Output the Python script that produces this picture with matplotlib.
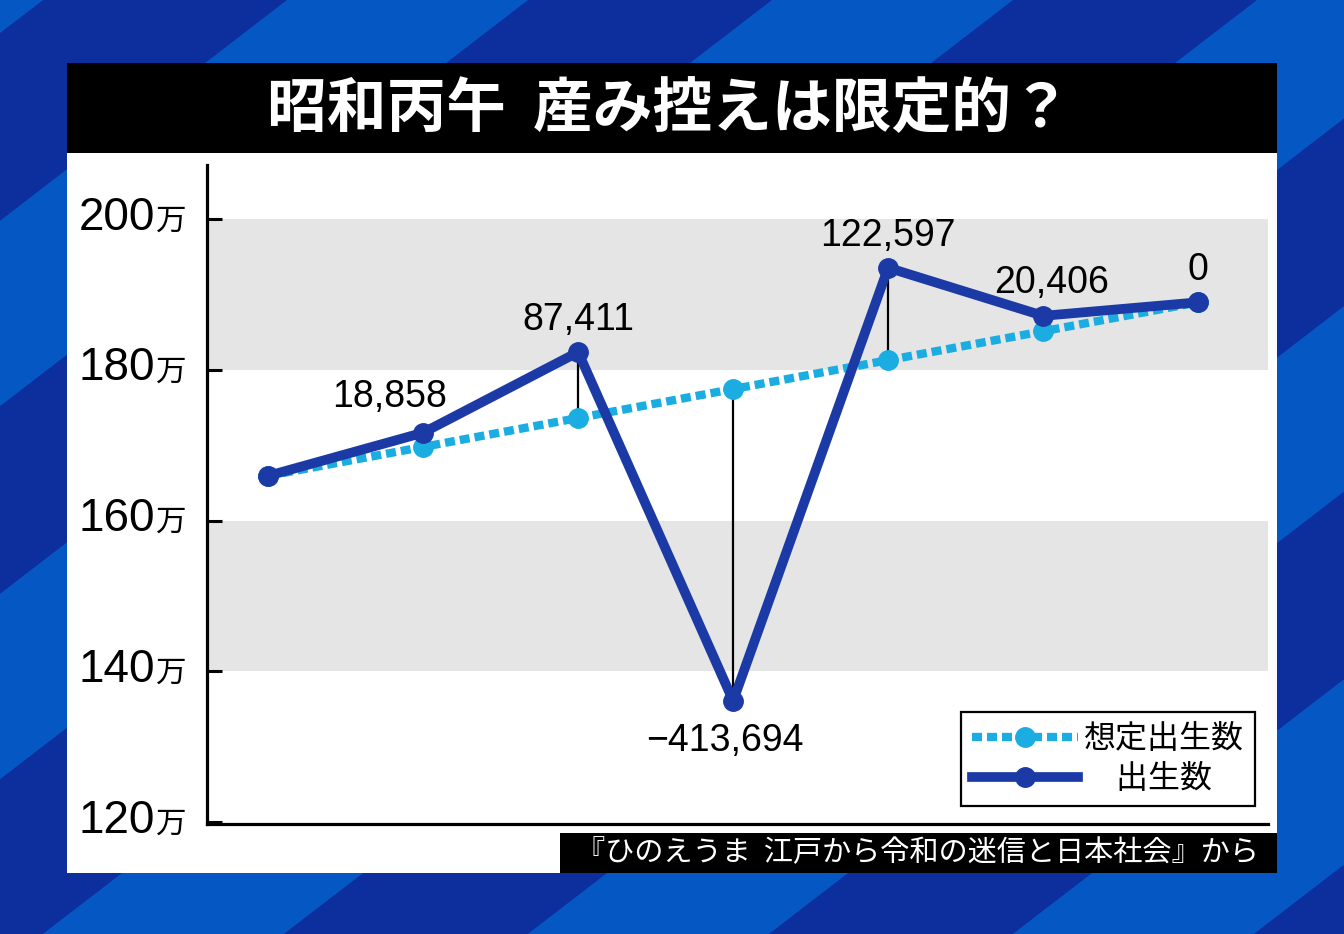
import numpy as np
import matplotlib.pyplot as plt
from matplotlib.patches import Rectangle, Polygon

plt.rcParams['font.family'] = ['Liberation Sans', 'Noto Sans CJK JP', 'DejaVu Sans']

# data (births, 1963-1969)
years = [1963, 1964, 1965, 1966, 1967, 1968, 1969]
expected = [1659521, 1697903, 1736286, 1774668, 1813050, 1851433, 1889815]
actual = [1659521, 1716761, 1823697, 1360974, 1935647, 1871839, 1889815]
diff_labels = ['', '18,858', '87,411', '\u2212413,694', '122,597', '20,406', '0']
label_offsets = [(0, 0), (-24, 26), (0, 23), (-6, -29), (0, 23), (6, 24), (0, 23)]
yticks = [120, 140, 160, 180, 200]

title = '昭和丙午  産み控えは限定的？'
source = '『ひのえうま  江戸から令和の迷信と日本社会』から'

dark = '#1c3aa6'
light = '#1badE2'

fig = plt.figure(figsize=(13.44, 9.34), dpi=100)

# background with diagonal stripes, drawn in pixel coords
bg = fig.add_axes([0, 0, 1, 1])
bg.set_xlim(0, 1344)
bg.set_ylim(934, 0)
bg.axis('off')
bg.add_patch(Rectangle((0, 0), 1344, 934, color='#0558c4'))
k_slope = 1.3
for k in range(-1, 6):
    c1 = 43 + 485 * k
    c2 = 287 + 485 * k
    pts = [(c1, 0), (c2, 0), (c2 - k_slope * 934, 934), (c1 - k_slope * 934, 934)]
    bg.add_patch(Polygon(pts, closed=True, color='#0d2f9e', lw=0))
bg.add_patch(Rectangle((67, 63), 1210, 810, color='white', lw=0))
bg.add_patch(Rectangle((67, 63), 1210, 90, color='black', lw=0))
bg.text(669, 110, title, color='white', fontsize=43, fontweight='bold',
        ha='center', va='center', family=['Noto Sans CJK JP'])
bg.add_patch(Rectangle((560, 833), 717, 40, color='black', lw=0))
bg.text(917, 853, source, color='white', fontsize=21,
        ha='center', va='center', family=['Noto Sans CJK JP'])

# main chart
ax = fig.add_axes([207 / 1344, 1 - 824 / 934, 1061 / 1344, 659 / 934])
ax.set_facecolor('white')
x = np.arange(len(years))
exp_m = np.array(expected) / 10000
act_m = np.array(actual) / 10000

ax.axhspan(140, 160, color='#e5e5e5', lw=0, zorder=0)
ax.axhspan(180, 200, color='#e5e5e5', lw=0, zorder=0)

for i in range(len(x)):
    if diff_labels[i] not in ('', '0'):
        ax.plot([x[i], x[i]], [exp_m[i], act_m[i]], color='black', lw=1.6, zorder=2)

ax.plot(x, exp_m, color=light, lw=6, ls=(0, (1.2, 0.6)), dash_capstyle='butt',
        marker='o', ms=14, mec=light, mfc=light, zorder=3, label='想定出生数')
ax.plot(x, act_m, color=dark, lw=7, marker='o', ms=14, mec=dark, mfc=dark,
        zorder=4, label='\u3000出生数')

for i in range(len(x)):
    if diff_labels[i]:
        dx, dy = label_offsets[i]
        ax.annotate(diff_labels[i], (x[i], act_m[i]), xytext=(dx, dy),
                    textcoords='offset points', ha='center', va='center',
                    fontsize=27, color='black', zorder=5)

ax.set_xlim(-0.394, 6.45)
ax.set_ylim(119.75, 207.2)
ax.set_xticks([])
ax.set_yticks(yticks)
ax.set_yticklabels([])
ax.tick_params(axis='y', direction='in', length=11, width=2.2)
for s in ['top', 'right']:
    ax.spines[s].set_visible(False)
for s in ['left', 'bottom']:
    ax.spines[s].set_linewidth(2.3)
    ax.spines[s].set_color('black')

for v in yticks:
    ax.annotate(str(v), (0, v), xycoords=ax.get_yaxis_transform(),
                xytext=(-37.5, -7.5), textcoords='offset points',
                ha='right', va='baseline', fontsize=33, annotation_clip=False)
    ax.annotate('万', (0, v), xycoords=ax.get_yaxis_transform(),
                xytext=(-37, -7.5), textcoords='offset points',
                ha='left', va='baseline', fontsize=22, annotation_clip=False,
                family=['Noto Sans CJK JP'])

leg = ax.legend(loc='lower right', bbox_to_anchor=(0.988, 0.027), borderaxespad=0,
                prop={'family': ['Noto Sans CJK JP'], 'size': 23},
                handlelength=3.3, handletextpad=0.2, labelspacing=0.25,
                borderpad=0.35, fancybox=False, framealpha=1, numpoints=1)
leg.get_frame().set_edgecolor('black')
leg.get_frame().set_linewidth(1.6)

fig.savefig('out.png', dpi=100)
